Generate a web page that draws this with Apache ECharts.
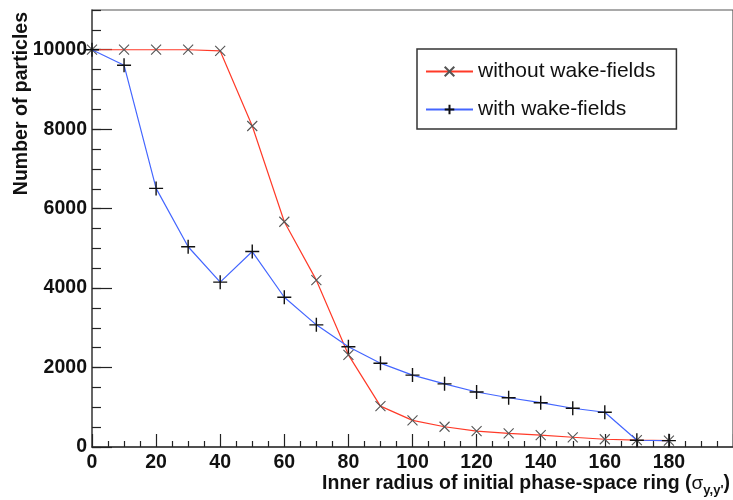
<!DOCTYPE html>
<html>
<head>
<meta charset="utf-8">
<script src="https://cdn.jsdelivr.net/npm/echarts@6/dist/echarts.min.js"></script>
<style>html,body{margin:0;padding:0;background:#fff}#c{width:733px;height:500px}</style>
</head>
<body>
<div id="c"></div>
<script>
var radius = [0, 10, 20, 30, 40, 50, 60, 70, 80, 90, 100, 110, 120, 130, 140, 150, 160, 170, 180];
var withoutWake = [10000, 10000, 10000, 10000, 9970, 8080, 5670, 4200, 2320, 1030, 670, 510, 400, 345, 300, 245, 195, 175, 160];
var withWake = [10000, 9610, 6510, 5040, 4150, 4920, 3770, 3075, 2525, 2110, 1810, 1590, 1385, 1240, 1115, 975, 875, 170, 160];
var seriesNames = ['without wake-fields', 'with wake-fields'];
var xTitle = 'Inner radius of initial phase-space ring (';
var yTitle = 'Number of particles';

var FONT = '"Liberation Sans", Arial, Helvetica, sans-serif';
function pairs(xs, ys) { return xs.map(function (x, i) { return [x, ys[i]]; }); }

var chart = echarts.init(document.getElementById('c'), null, {renderer: 'canvas'});
chart.setOption({
  animation: false,
  backgroundColor: '#fff',
  grid: {left: 92, top: 10, right: -9, bottom: 53, show: true, borderColor: '#555', borderWidth: 1.2, backgroundColor: 'transparent'},
  xAxis: {
    type: 'value', min: 0, max: 200, interval: 20,
    axisLine: {show: true, onZero: false, lineStyle: {color: '#333', width: 1.5}},
    axisTick: {show: true, inside: true, length: 13, lineStyle: {color: '#222', width: 1.2}},
    minorTick: {show: true, splitNumber: 4, length: 6, lineStyle: {color: '#222', width: 1.2}},
    splitLine: {show: false},
    axisLabel: {fontFamily: FONT, fontWeight: 'bold', fontSize: 19.5, color: '#111', margin: 6, showMaxLabel: false,
      formatter: function (v) { return v > 190 ? '' : String(v); }}
  },
  yAxis: [{
    type: 'value', min: 0, max: 11000, interval: 2000,
    axisLine: {show: true, onZero: false, lineStyle: {color: '#555', width: 1.5}},
    axisTick: {show: true, inside: true, length: 20, lineStyle: {color: '#222', width: 1.2}},
    splitLine: {show: false},
    axisLabel: {fontFamily: FONT, fontWeight: 'bold', fontSize: 19.5, color: '#111', margin: 5, showMaxLabel: false,
      formatter: function (v) { return String(v); }}
  }, {
    type: 'value', min: 0, max: 11000, interval: 500, position: 'left',
    axisLine: {show: false},
    axisTick: {show: true, inside: true, length: 9, lineStyle: {color: '#222', width: 1.2}},
    splitLine: {show: false},
    axisLabel: {show: false}
  }],
  legend: {
    orient: 'vertical', left: 417, top: 49,
    padding: [12, 21, 9, 8], itemGap: 17, itemWidth: 47, itemHeight: 12,
    borderColor: '#333', borderWidth: 1.5, backgroundColor: '#fff',
    textStyle: {fontFamily: FONT, fontSize: 21, color: '#111'},
    data: seriesNames
  },
  series: [{
    name: seriesNames[0], type: 'line', data: pairs(radius, withoutWake),
    symbol: 'path://M0,0 L10,10 M10,0 L0,10', symbolSize: 10,
    lineStyle: {color: '#ff3a28', width: 1.2},
    itemStyle: {color: 'none', borderColor: '#555', borderWidth: 1.1},
    z: 3
  }, {
    name: seriesNames[1], type: 'line', data: pairs(radius, withWake),
    symbol: 'path://M5,0 L5,10 M0,5 L10,5', symbolSize: 14,
    lineStyle: {color: '#4466ff', width: 1.2},
    itemStyle: {color: 'none', borderColor: '#111', borderWidth: 1.4},
    z: 4
  }],
  graphic: [{
    type: 'text', x: 22, y: 12, rotation: Math.PI / 2,
    style: {text: yTitle, font: 'bold 19.5px ' + FONT, fill: '#111', align: 'right', verticalAlign: 'middle'}
  }, {
    type: 'text', x: 730, y: 484,
    style: {
      text: '{b|' + xTitle + '}{s|σ}{sub|y,y\'}{b|)}',
      align: 'right', verticalAlign: 'middle', fill: '#111',
      rich: {
        b: {font: 'bold 19.5px ' + FONT, fill: '#111', lineHeight: 24},
        s: {font: '19px ' + FONT, fill: '#111', lineHeight: 24},
        sub: {font: 'bold 13px ' + FONT, fill: '#111', lineHeight: 24, padding: [12, 0, 0, 0]}
      }
    }
  }]
});
</script>
</body>
</html>
